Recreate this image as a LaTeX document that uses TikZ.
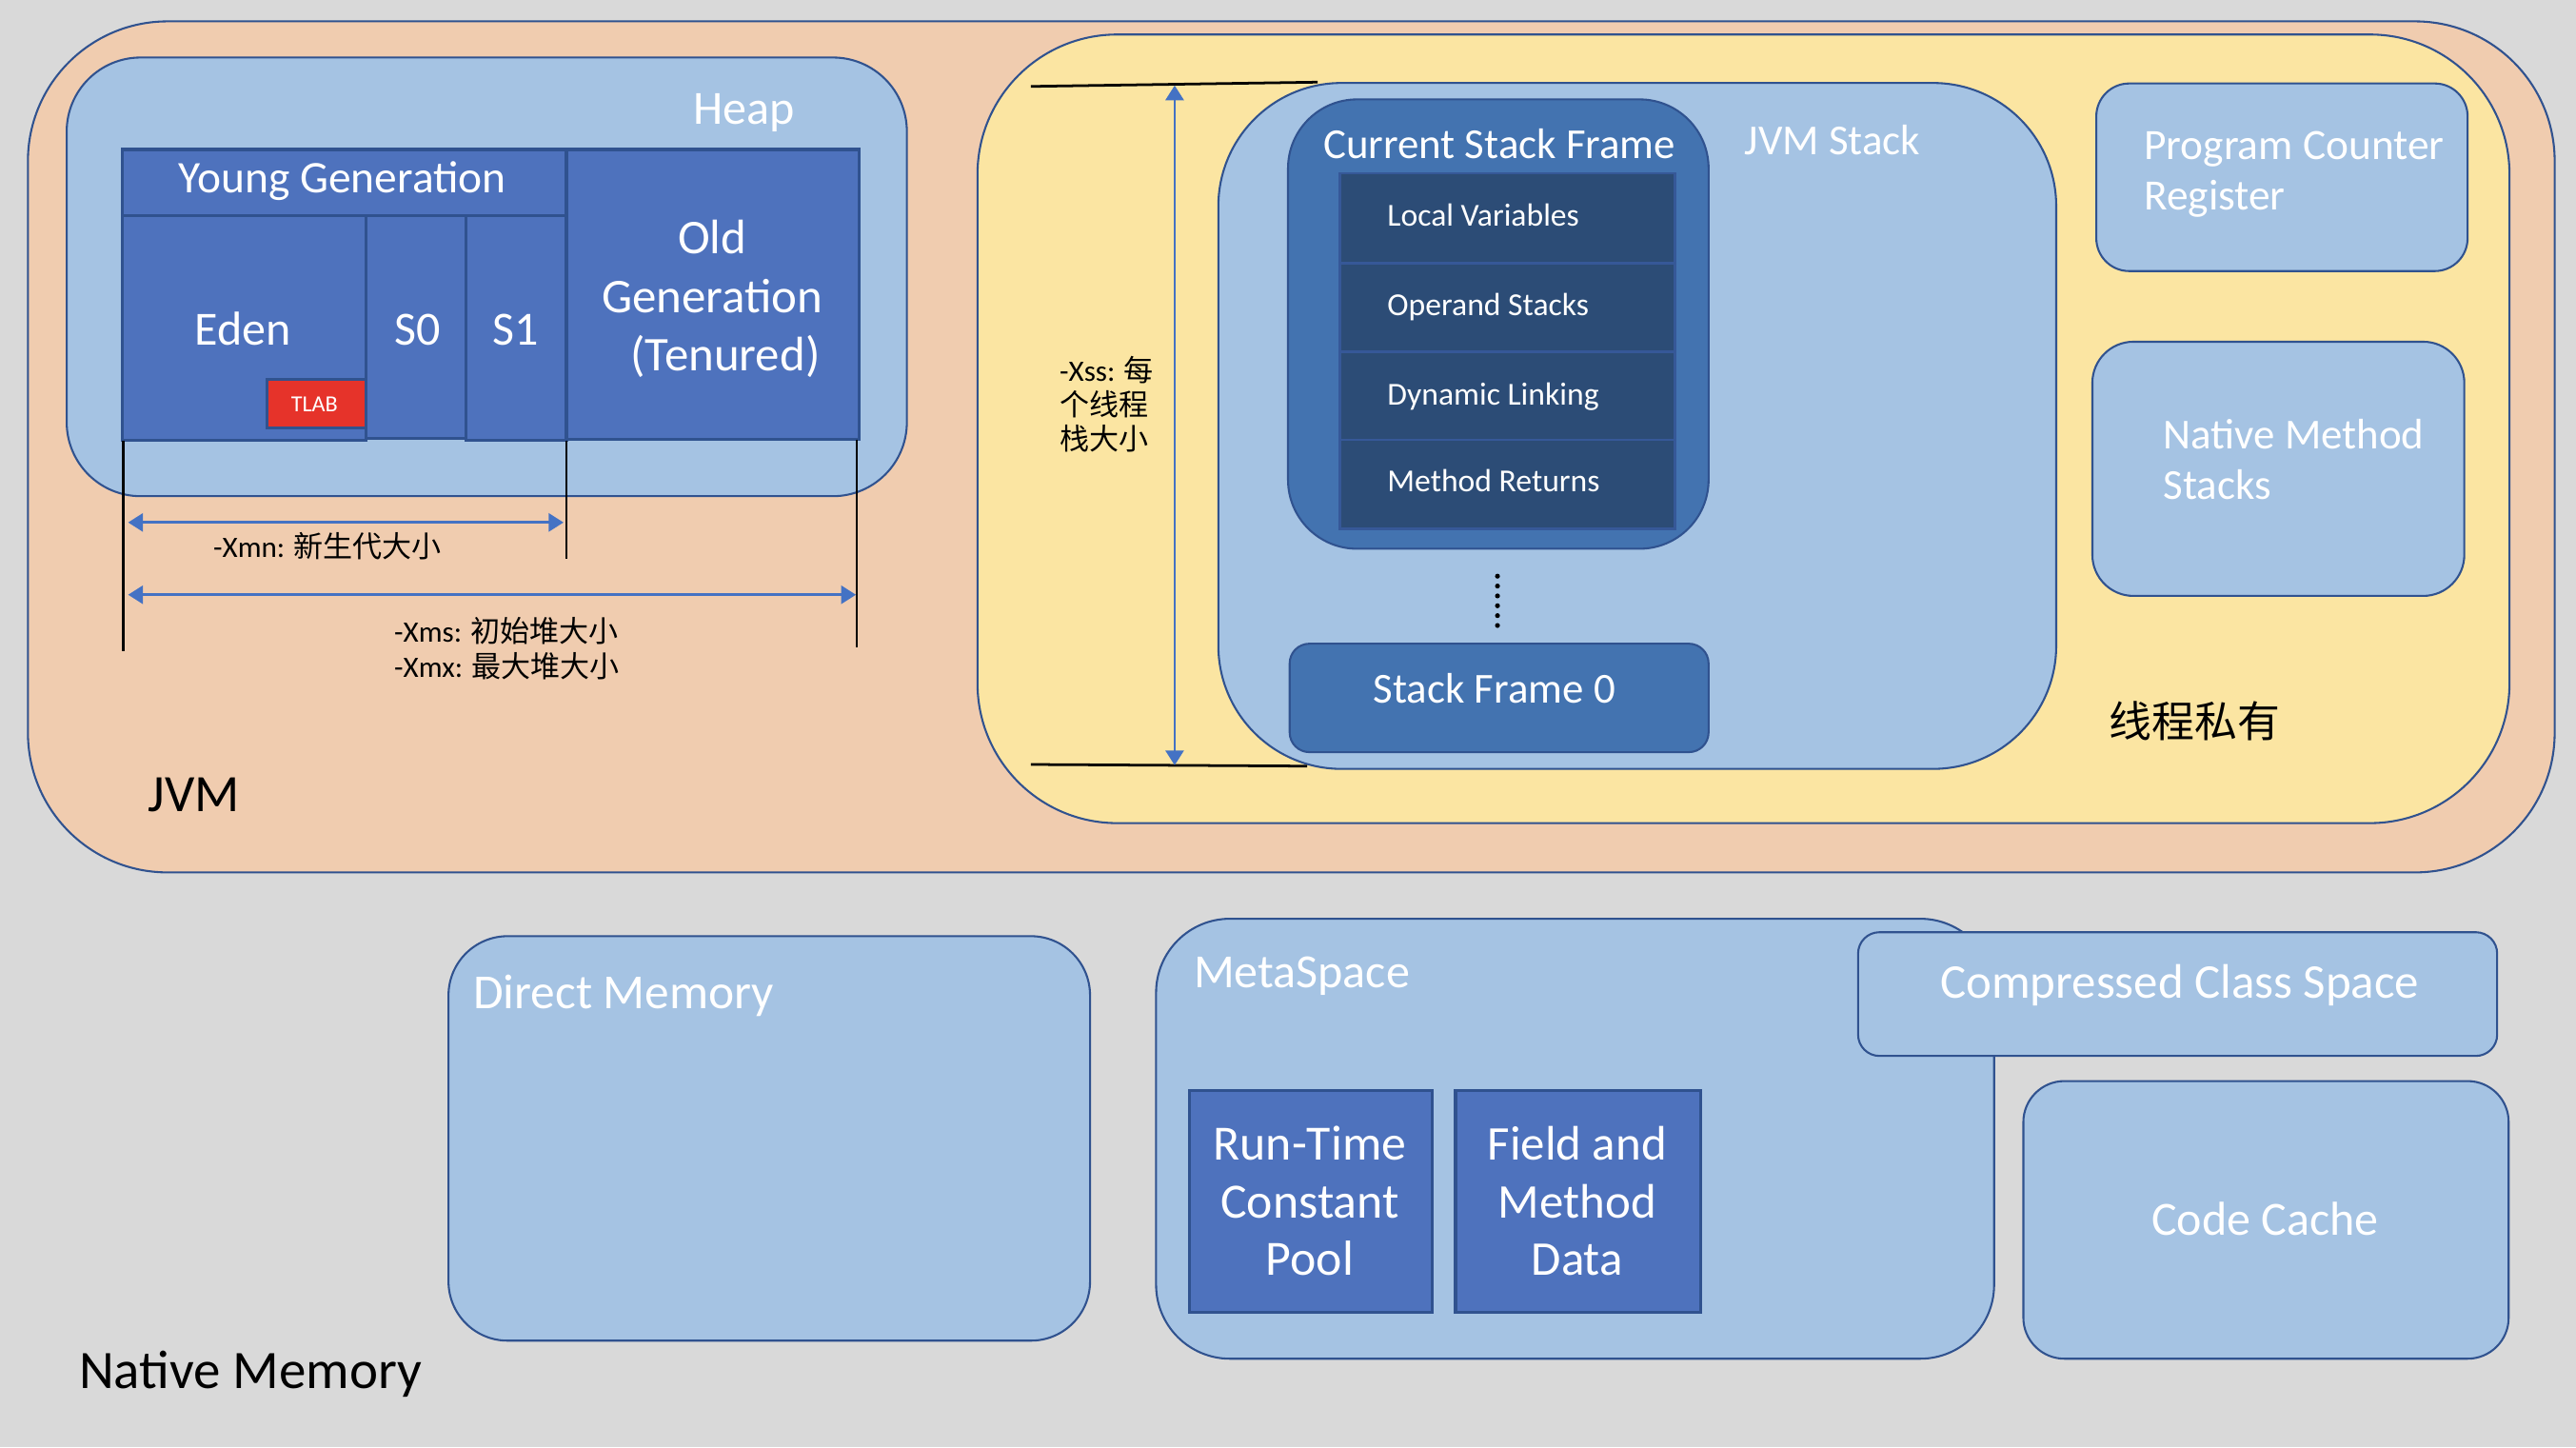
\documentclass[tikz,border=0pt]{standalone}
\usepackage{fontspec}
\setmainfont{Carlito}
\newfontfamily\cjk{Noto Sans CJK SC}
\usetikzlibrary{arrows.meta}
\definecolor{bg}{HTML}{D9D9D9}
\definecolor{peach}{HTML}{F0CCAF}
\definecolor{yel}{HTML}{FBE5A2}
\definecolor{lblue}{HTML}{A5C3E3}
\definecolor{mblue}{HTML}{4E72BD}
\definecolor{fblue}{HTML}{4373B0}
\definecolor{dblue}{HTML}{2C4C76}
\definecolor{bord}{HTML}{30528F}
\definecolor{arrblue}{HTML}{4472C4}
\definecolor{tlabred}{HTML}{E6332A}
\tikzset{
  region/.style={draw=bord, line width=1.2pt, inner sep=0pt, outer sep=0pt, anchor=north west},
  blk/.style={draw=bord, line width=1.8pt, fill=mblue, inner sep=0pt, outer sep=0pt, anchor=north west},
  inblk/.style={draw=bord!80!mblue, line width=1.6pt, fill=dblue, inner sep=0pt, outer sep=0pt, anchor=north west},
  wt/.style={text=white, inner sep=0pt, outer sep=0pt},
  bt/.style={text=black, inner sep=0pt, outer sep=0pt},
  fs/.style={font=\fontsize{#1}{#1}\selectfont},
  blackline/.style={draw=black, line width=1.6pt},
  dimarrow/.style={draw=arrblue, line width=1.6pt, {Triangle[length=9pt,width=11pt]}-{Triangle[length=9pt,width=11pt]}}
}
\begin{document}
\begin{tikzpicture}[x=1pt, y=-1pt]
\fill[bg] (0,0) rectangle (1568,880.8);
\useasboundingbox (0,0) rectangle (1568,880.8);

% JVM outer
\node[region, fill=peach, rounded corners=85pt, minimum width=1538pt, minimum height=518pt] (jvm) at (17,13) {};
% Heap
\node[region, fill=lblue, rounded corners=45pt, minimum width=511.4pt, minimum height=267pt] (heap) at (40.6,35) {};
\node[blk, minimum width=270.2pt, minimum height=40.4pt] (young) at (74.6,91) {};
\node[blk, minimum width=148.4pt, minimum height=136.6pt] (eden) at (74.6,131.4) {};
\node[blk, minimum width=60.8pt, minimum height=135.6pt] (s0) at (223,131.4) {};
\node[blk, minimum width=61pt, minimum height=136.6pt] (s1) at (283.8,131.4) {};
\node[blk, minimum width=178.1pt, minimum height=176.5pt] (old) at (344.8,91) {};
\node[blk, fill=tlabred, minimum width=60.4pt, minimum height=29.6pt] (tlab) at (162.6,230.7) {};

% Thread private
\node[region, fill=yel, rounded corners=85pt, minimum width=932.5pt, minimum height=480pt] (tp) at (595,21) {};
\node[region, fill=lblue, rounded corners=75pt, minimum width=510pt, minimum height=417.5pt] (jvmstack) at (741.6,50.5) {};
\node[region, fill=fblue, rounded corners=42pt, minimum width=256pt, minimum height=273.5pt] (csf) at (784,60.5) {};
\node[inblk, minimum width=204pt, minimum height=54.5pt] (lvbox) at (815.6,105.5) {};
\node[inblk, minimum width=204pt, minimum height=54pt] (osbox) at (815.6,160) {};
\node[inblk, minimum width=204pt, minimum height=53.7pt] (dlbox) at (815.6,214) {};
\node[inblk, minimum width=204pt, minimum height=54.3pt] (mrbox) at (815.6,267.7) {};
\node[region, fill=fblue, rounded corners=12pt, minimum width=255pt, minimum height=66pt] (sf0) at (785,391.8) {};
\node[region, fill=lblue, rounded corners=20pt, minimum width=226pt, minimum height=114.2pt] (pcr) at (1276,50.8) {};
\node[region, fill=lblue, rounded corners=25pt, minimum width=226.4pt, minimum height=154.7pt] (nms) at (1273.6,208) {};

% Native memory boxes
\node[region, fill=lblue, rounded corners=36pt, minimum width=390.5pt, minimum height=246.2pt] (dm) at (273,569.8) {};
\node[region, fill=lblue, rounded corners=45pt, minimum width=510.1pt, minimum height=267.8pt] (meta) at (703.7,559.2) {};
\node[blk, minimum width=148.2pt, minimum height=135.5pt] (rtcp) at (723.8,663.5) {};
\node[blk, minimum width=149pt, minimum height=135.5pt] (fmd) at (886,663.5) {};
\node[region, fill=lblue, rounded corners=13pt, minimum width=389pt, minimum height=75.3pt] (ccs) at (1131,567.4) {};
\node[region, fill=lblue, rounded corners=25pt, minimum width=295.4pt, minimum height=169pt] (cc) at (1231.6,658) {};

% Heap dimension lines
\coordinate (l1a) at (75,268);    \coordinate (l1b) at (75,396.5);
\coordinate (l2a) at (344.8,268); \coordinate (l2b) at (344.8,340);
\coordinate (l3a) at (521.5,267.5); \coordinate (l3b) at (521.5,394);
\draw[blackline] (l1a) -- (l1b);
\draw[blackline] (l2a) -- (l2b);
\draw[blackline] (l3a) -- (l3b);
\coordinate (xmnL) at (78,318); \coordinate (xmnR) at (343,318);
\coordinate (xmsL) at (78,362); \coordinate (xmsR) at (521,362);
\draw[dimarrow] (xmnL) -- (xmnR);
\draw[dimarrow] (xmsL) -- (xmsR);

% Xss lines
\coordinate (xt1) at (627.5,52.6); \coordinate (xt2) at (802,50);
\coordinate (xb1) at (627.5,465.3); \coordinate (xb2) at (795.6,466.3);
\draw[blackline] (xt1) -- (xt2);
\draw[blackline] (xb1) -- (xb2);
\coordinate (xssT) at (715,52); \coordinate (xssB) at (715,465.8);
\draw[dimarrow] (xssT) -- (xssB);

% dots
\coordinate (dotT) at (911.5,350.7); \coordinate (dotB) at (911.5,380.7);
\draw[line width=3pt, line cap=round, dash pattern=on 0pt off 6pt] (dotT) -- (dotB);

% Texts: heap
\node[wt, fs=29, anchor=base] (heapT) at (453,75.5) {Heap};
\node[wt, fs=27.5, anchor=base] (youngT) at (208.5,117.4) {Young Generation};
\node[wt, fs=29, anchor=base] (edenT) at (148,210) {Eden};
\node[wt, fs=29, anchor=base] (s0T) at (254,210) {S0};
\node[wt, fs=29, anchor=base] (s1T) at (314,210) {S1};
\node[wt, font=\fontsize{29.5}{35.7}\selectfont, align=center, anchor=center] (oldT) at (433.5,182) {Old\\Generation\\\hspace*{16pt}(Tenured)};
\node[wt, fs=14, anchor=base] (tlabT) at (191.4,250.4) {TLAB};
\node[bt, fs=18, anchor=base] (xmnT) at (199.4,339.5) {-Xmn: {\cjk 新生代大小}};
\node[bt, font=\fontsize{18}{21.6}\selectfont, align=left, anchor=west] (xmsT) at (240,394.8) {-Xms: {\cjk 初始堆大小}\\-Xmx: {\cjk 最大堆大小}};
\node[bt, fs=32, anchor=base] (jvmT) at (118,493.8) {JVM};

% Texts: thread private
\node[bt, font=\fontsize{18}{21}\selectfont, align=left, anchor=west] (xssT) at (645,246) {-Xss: {\cjk 每}\\{\cjk 个线程}\\{\cjk 栈大小}};
\node[wt, fs=26, anchor=base] (csfT) at (912.7,96.4) {Current Stack Frame};
\node[wt, fs=26, anchor=base west] (jsT) at (1062,94.4) {JVM Stack};
\node[wt, fs=19.5, anchor=base west] (lvT) at (844.5,137.7) {Local Variables};
\node[wt, fs=19.5, anchor=base west] (osT) at (844.5,192.3) {Operand Stacks};
\node[wt, fs=19.5, anchor=base west] (dlT) at (844.5,246.3) {Dynamic Linking};
\node[wt, fs=19.5, anchor=base west] (mrT) at (844.5,299.3) {Method Returns};
\node[wt, fs=26, anchor=base] (sf0T) at (909.6,428) {Stack Frame 0};
\node[wt, font=\fontsize{26.3}{31}\selectfont, align=left, anchor=west] (pcrT) at (1305,106) {Program Counter\\Register};
\node[wt, font=\fontsize{26}{31}\selectfont, align=left, anchor=west] (nmsT) at (1317,279.5) {Native Method\\Stacks};
\node[bt, font=\cjk\fontsize{26}{31}\selectfont, anchor=base] (tpT) at (1336,448.9) {线程私有};

% Texts: native memory
\node[bt, fs=33, anchor=base] (nmT) at (152.5,845) {Native Memory};
\node[wt, fs=29.8, anchor=base west] (dmT) at (288,614) {Direct Memory};
\node[wt, fs=29, anchor=base west] (metaT) at (726.7,601.3) {MetaSpace};
\node[wt, font=\fontsize{30}{35}\selectfont, align=center, anchor=center] (rtcpT) at (797.3,731) {Run-Time\\Constant\\Pool};
\node[wt, font=\fontsize{29.5}{35}\selectfont, align=center, anchor=center] (fmdT) at (960,731) {Field and\\Method\\Data};
\node[wt, fs=29.5, anchor=base] (ccsT) at (1326.8,607.3) {Compressed Class Space};
\node[wt, fs=29, anchor=base] (ccT) at (1378.8,752) {Code Cache};
\end{tikzpicture}
\end{document}
